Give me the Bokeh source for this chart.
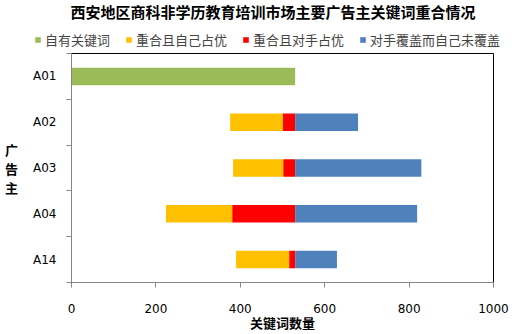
from bokeh.plotting import figure
from bokeh.models import (ColumnDataSource, Range1d, FixedTicker,
                          Legend, LegendItem, Label)
from bokeh.layouts import column
from bokeh.embed import file_html
from bokeh.resources import INLINE

title_text = "西安地区商科非学历教育培训市场主要广告主关键词重合情况"
categories = ["A01", "A02", "A03", "A04", "A14"]
blank = [0, 376, 383, 224, 390]          # invisible spacer series
own_kw = [530, 0, 0, 0, 0]               # 自有关键词
self_adv = [0, 125, 119, 157, 126]       # 重合且自己占优
rival_adv = [0, 29, 28, 149, 14]         # 重合且对手占优
uncovered = [0, 149, 299, 289, 99]       # 对手覆盖而自己未覆盖
series_names = ["自有关键词", "重合且自己占优", "重合且对手占优", "对手覆盖而自己未覆盖"]
x_ticks = [0, 200, 400, 600, 800, 1000]
x_label = "关键词数量"
y_label = "广\n告\n主"

colors = ["#9BBB59", "#FFC000", "#FF0000", "#4F81BD"]
CJK = "Noto Sans CJK SC"
LAT = "DejaVu Sans"

W = 516
TOP_H = 52
MAIN_H = 282

# ---------------- header (title + legend) ----------------
h = figure(width=W, height=TOP_H, output_backend="svg", toolbar_location=None,
           x_range=Range1d(0, W), y_range=Range1d(0, TOP_H),
           x_axis_location=None, y_axis_location=None, min_border=0)
h.frame_align = False
h.xgrid.visible = False
h.ygrid.visible = False
h.outline_line_color = None
off = ColumnDataSource(dict(x=[-1000], y=[-1000]))
dummies = [h.rect(x="x", y="y", width=1, height=1, source=off,
                  fill_color=c, line_color=None) for c in colors]
legend = Legend(items=[LegendItem(label=series_names[i], renderers=[dummies[i]])
                       for i in range(4)],
                orientation="horizontal", location=(34, 3),
                glyph_width=7, glyph_height=7, label_standoff=4, spacing=15,
                padding=0, margin=0, border_line_color=None,
                background_fill_alpha=0, label_text_font=CJK,
                label_text_font_size="13px", label_height=14)
h.add_layout(legend, "center")
h.add_layout(Label(x=272.5, y=TOP_H - 11, x_units="screen", y_units="screen",
                   text=title_text, text_font=CJK, text_font_size="15px",
                   text_font_style="bold", text_align="center",
                   text_baseline="middle", text_color="black"))

# ---------------- main chart ----------------
n = len(categories)
ypos = [n - i - 0.5 for i in range(n)]
source = ColumnDataSource(dict(y=ypos, blank=blank, own=own_kw, selfa=self_adv,
                               rival=rival_adv, unc=uncovered))

p = figure(width=W, height=MAIN_H, output_backend="svg", toolbar_location=None,
           x_range=Range1d(0, 1000), y_range=Range1d(0, n),
           min_border_left=71, min_border_right=23, min_border_top=1,
           min_border_bottom=50)
p.frame_align = False
p.outline_line_color = "black"
p.outline_line_width = 1
p.xgrid.visible = False
p.ygrid.visible = False

stackers = ["blank", "own", "selfa", "rival", "unc"]
rends = p.hbar_stack(stackers, y="y", height=0.383, source=source,
                     fill_color=["#FFFFFF"] + colors,
                     fill_alpha=[0, 1, 1, 1, 1], line_color=None)

xa = p.xaxis[0]
xa.ticker = FixedTicker(ticks=x_ticks)
xa.axis_line_color = "#868686"
xa.major_tick_line_color = "#868686"
xa.major_tick_out = 5
xa.major_tick_in = 0
xa.minor_tick_line_color = None
xa.major_label_text_font = LAT
xa.major_label_text_font_size = "12px"
xa.major_label_text_color = "black"
xa.major_label_standoff = 16
xa.axis_label = x_label
xa.axis_label_text_font = CJK
xa.axis_label_text_font_size = "13px"
xa.axis_label_text_font_style = "bold"
xa.axis_label_text_color = "black"
xa.axis_label_standoff = -3

ya = p.yaxis[0]
ya.ticker = FixedTicker(ticks=ypos, minor_ticks=list(range(n + 1)))
ya.major_label_overrides = {ypos[i]: categories[i] for i in range(n)}
ya.axis_line_color = "#868686"
ya.major_tick_line_color = None
ya.major_tick_out = 0
ya.major_tick_in = 0
ya.minor_tick_line_color = "#868686"
ya.minor_tick_out = 5
ya.minor_tick_in = 0
ya.major_label_text_font = LAT
ya.major_label_text_font_size = "12px"
ya.major_label_text_color = "black"
ya.major_label_standoff = 10
ya.axis_label = y_label
ya.axis_label_orientation = "horizontal"
ya.axis_label_text_font = CJK
ya.axis_label_text_font_size = "13px"
ya.axis_label_text_font_style = "bold"
ya.axis_label_text_color = "black"
ya.axis_label_text_line_height = 1.0
ya.axis_label_standoff = 12

open("out.html", "w").write(file_html(column(h, p, spacing=0), INLINE))
